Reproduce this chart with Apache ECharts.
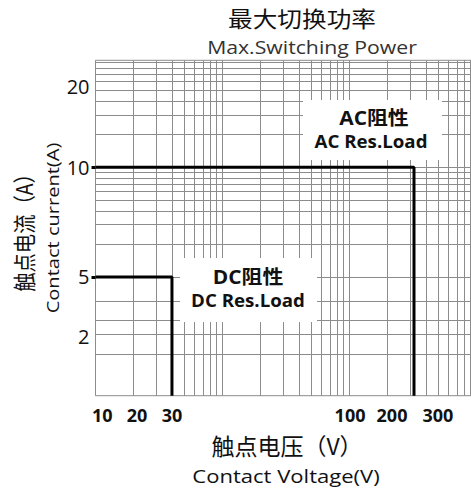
<!DOCTYPE html>
<html>
<head>
<meta charset="utf-8">
<script src="https://cdn.jsdelivr.net/npm/echarts@6/dist/echarts.min.js"></script>
<style>
  html, body { margin: 0; padding: 0; background: #fff; }
  #chart { width: 471px; height: 490px; }
</style>
</head>
<body>
<div id="chart"></div>
<script>
// ---- data ----
const voltageTicks = [10, 20, 30, 100, 200, 300];          // x tick labels (V)
const currentTicks = [2, 5, 10, 20];                        // y tick labels (A)
const loadTypes = ['DC阻性', 'AC阻性'];
const loadNamesEn = ['DC Res.Load', 'AC Res.Load'];
const maxVoltage = [30, 250];                               // V
const maxCurrent = [5, 10];                                 // A

// The printed scale is schematic: calibration of the printed values onto the log grid paper
const voltageCalV = [10, 20, 30, 100, 200, 250, 300];
const voltageCalGrid = [1.13, 2.12, 4.0, 101, 216, 322, 497];
const currentCalA = [2, 5, 10, 20];
const currentCalGrid = [2.85, 10, 100, 545];

// grid paper extents (log units of the paper)
const xPaper = [1, 905];
const yPaper = [0.83, 940];

function calib(v, keys, vals) { return vals[keys.indexOf(v)]; }
function nearestIdx(val, arr) {
  let best = 0, bd = Infinity;
  arr.forEach((a, i) => { const d = Math.abs(Math.log(a) - Math.log(val)); if (d < bd) { bd = d; best = i; } });
  return best;
}
const vx = v => calib(v, voltageCalV, voltageCalGrid);
const ay = a => calib(a, currentCalA, currentCalGrid);

// log paper lines
const xGridLines = [];
[1, 10, 100].forEach(d => { for (let k = 1; k <= 9; k++) { const v = k * d; if (v > xPaper[0] && v < xPaper[1]) xGridLines.push(v); } });
const yGridLines = [2, 3, 4, 6];
[10, 100].forEach(d => { for (let k = 1; k <= 9; k++) { const v = k * d; if (v < yPaper[1]) yGridLines.push(v); } });

const xTickVals = voltageTicks.map(vx);
const yTickVals = currentTicks.map(ay);

const latin = 'Open Sans, Noto Sans CJK SC, sans-serif';
const cjk = 'Noto Sans CJK SC, sans-serif';

const lineSeries = loadTypes.map((name, i) => ({
  name: name,
  type: 'line',
  z: 5,
  symbol: 'none',
  lineStyle: { color: '#000', width: 3 },
  data: [
    [xPaper[0], ay(maxCurrent[i])],
    [vx(maxVoltage[i]), ay(maxCurrent[i])],
    [vx(maxVoltage[i]), yPaper[0]]
  ]
}));

function txt(text, x, y, font, opts, fill) {
  return Object.assign({
    type: 'text', x: x, y: y, z: 11,
    style: { text: text, font: font, fill: fill || '#111', textAlign: 'center', textVerticalAlign: 'middle' }
  }, opts || {});
}

const chart = echarts.init(document.getElementById('chart'), null, { renderer: 'svg' });
chart.setOption({
  animation: false,
  backgroundColor: '#fff',
  grid: { left: 95.5, right: 0, top: 60.3, bottom: 94.3, show: true, borderColor: '#8c8c8c', borderWidth: 1 },
  xAxis: {
    type: 'log', logBase: 10, min: xPaper[0], max: xPaper[1],
    axisLine: { show: false }, splitLine: { show: false }, minorSplitLine: { show: false },
    axisTick: { show: false },
    axisLabel: {
      customValues: xTickVals, margin: 10, fontSize: 18, fontWeight: 'bold', color: '#111', fontFamily: latin,
      formatter: v => String(voltageTicks[nearestIdx(v, xTickVals)])
    }
  },
  yAxis: {
    type: 'log', logBase: 10, min: yPaper[0], max: yPaper[1],
    axisLine: { show: false }, splitLine: { show: false }, minorSplitLine: { show: false },
    axisTick: { show: true, customValues: maxCurrent.map(ay), length: 4, lineStyle: { color: '#000', width: 3 } },
    axisLabel: {
      customValues: yTickVals, margin: 6, fontSize: 20, color: '#111', fontFamily: latin,
      formatter: v => String(currentTicks[nearestIdx(v, yTickVals)])
    }
  },
  series: [{
    name: 'paper',
    type: 'line',
    z: 1,
    data: [],
    silent: true,
    markLine: {
      silent: true, symbol: ['none', 'none'], label: { show: false },
      lineStyle: { color: '#8c8c8c', width: 1, type: 'solid' },
      emphasis: { disabled: true },
      data: xGridLines.map(v => ({ xAxis: v })).concat(yGridLines.map(v => ({ yAxis: v })))
    }
  }].concat(lineSeries),
  graphic: [
    txt('最大切换功率', 302, 18, '22px ' + cjk, { scaleX: 1.12 }),
    txt('Max.Switching Power', 312, 47, '18px ' + latin, { scaleX: 1.18 }, '#333'),
    // axis titles
    txt('触点电压（V）', 287, 445, '23px ' + cjk),
    txt('Contact Voltage(V)', 286, 476, '19px ' + latin, { scaleX: 1.16 }),
    txt('触点电流（A）', 23, 228, '23px ' + cjk, { rotation: Math.PI / 2, scaleX: 0.84 }),
    txt('Contact current(A)', 52, 228, '17px ' + latin, { rotation: Math.PI / 2, scaleX: 1.18 }),
    // load annotations
    { type: 'rect', z: 10, shape: { x: 303, y: 100, width: 139, height: 60 }, style: { fill: '#fff' } },
    txt(loadTypes[1], 374, 118, 'bold 19px ' + latin, { scaleX: 1.1 }),
    txt(loadNamesEn[1], 371, 141, 'bold 17px ' + latin, { scaleX: 1.1 }),
    { type: 'rect', z: 10, shape: { x: 180, y: 258, width: 137, height: 64 }, style: { fill: '#fff' } },
    txt(loadTypes[0], 248, 277, 'bold 19px ' + latin, { scaleX: 1.1 }),
    txt(loadNamesEn[0], 248, 300, 'bold 17px ' + latin, { scaleX: 1.1 })
  ]
});
</script>
</body>
</html>
